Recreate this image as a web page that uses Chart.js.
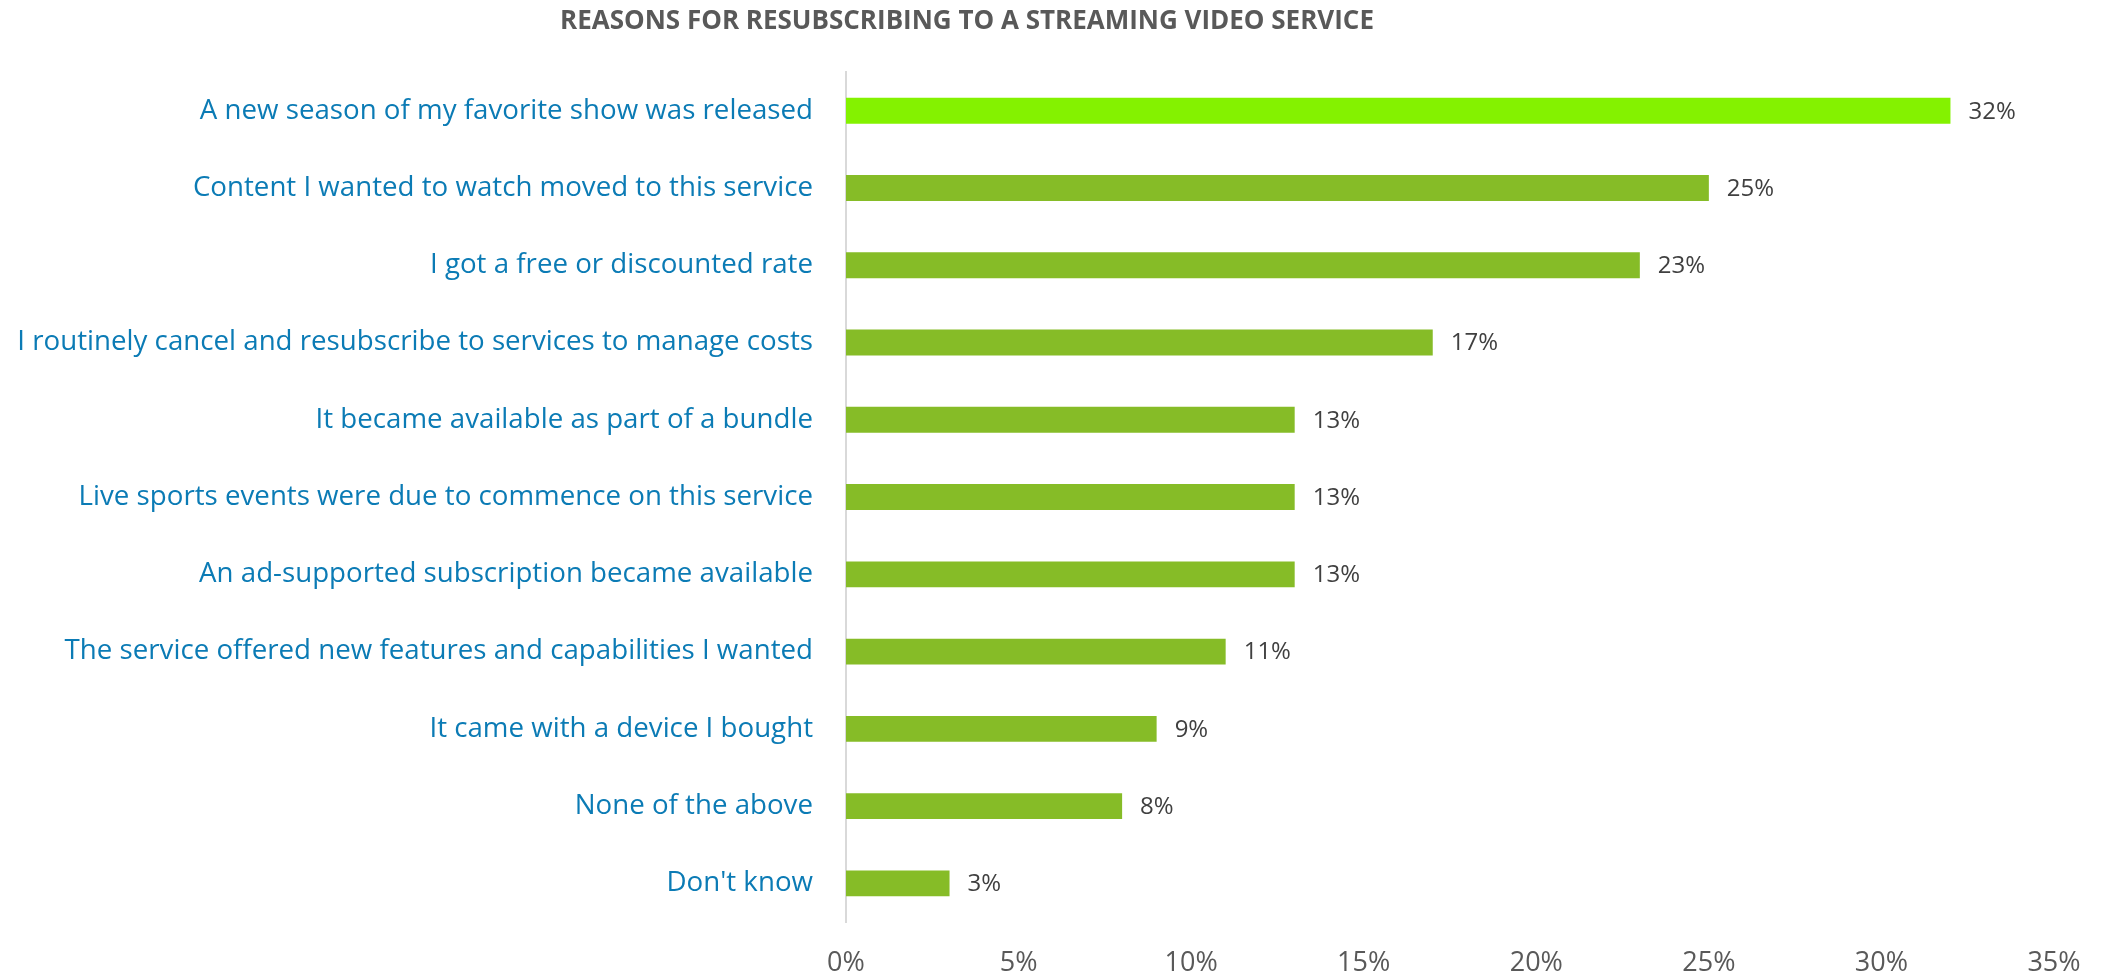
<!DOCTYPE html>
<html>
<head>
<meta charset="utf-8">
<title>Reasons for resubscribing to a streaming video service</title>
<script src="https://cdn.jsdelivr.net/npm/chart.js@4/dist/chart.umd.min.js"></script>
<style>
    html, body { margin: 0; padding: 0; background: #ffffff; }
    #chart-wrap { width: 2108px; height: 979px; }
</style>
</head>
<body>
<div id="chart-wrap">
    <canvas id="resub-chart" width="2108" height="979"></canvas>
</div>
<script>
// Survey answers, top to bottom
const reasons = [
    'A new season of my favorite show was released',
    'Content I wanted to watch moved to this service',
    'I got a free or discounted rate',
    'I routinely cancel and resubscribe to services to manage costs',
    'It became available as part of a bundle',
    'Live sports events were due to commence on this service',
    'An ad-supported subscription became available',
    'The service offered new features and capabilities I wanted',
    'It came with a device I bought',
    'None of the above',
    "Don't know"
];

// Share of respondents (%)
const shares = [32, 25, 23, 17, 13, 13, 13, 11, 9, 8, 3];

// Axis range and ticks (%)
const axisMin = 0;
const axisMax = 35;
const axisStep = 5;

const TITLE = 'REASONS FOR RESUBSCRIBING TO A STREAMING VIDEO SERVICE';

const LIME = '#84f200';
const GREEN = '#86bc27';
const LABEL_BLUE = '#0b7bb5';
const GREY = '#595959';

// Top reason gets the highlight colour
const barColors = shares.map((v, i) => i === 0 ? LIME : GREEN);

// Value labels drawn just past the end of each bar
const valueLabels = {
    id: 'valueLabels',
    afterDatasetsDraw(chart) {
        const { ctx } = chart;
        const meta = chart.getDatasetMeta(0);
        ctx.save();
        ctx.font = "24px 'Open Sans'";
        ctx.fillStyle = '#404040';
        ctx.textAlign = 'left';
        ctx.textBaseline = 'middle';
        meta.data.forEach((bar, i) => {
            ctx.fillText(shares[i] + '%', bar.x + 18, bar.y + 1);
        });
        ctx.restore();
    }
};

// The title sits centred over the left part of the figure, not the whole canvas
const titleShift = {
    id: 'titleShift',
    afterLayout(chart) {
        const t = chart.titleBlock;
        if (!t) return;
        t.left = 0;
        t.right = 1934;
    }
};

new Chart(document.getElementById('resub-chart'), {
    type: 'bar',
    data: {
        labels: reasons,
        datasets: [{
            data: shares,
            backgroundColor: barColors,
            borderWidth: 0,
            categoryPercentage: 1,
            barPercentage: 0.336
        }]
    },
    options: {
        indexAxis: 'y',
        responsive: false,
        animation: false,
        layout: {
            padding: { left: 0, right: 54, top: 0, bottom: 0 }
        },
        plugins: {
            legend: { display: false },
            tooltip: { enabled: false },
            title: {
                display: true,
                text: TITLE,
                color: GREY,
                font: { family: "'Open Sans'", size: 26, weight: 'bold' },
                padding: { top: 6, bottom: 35 }
            }
        },
        scales: {
            x: {
                min: axisMin,
                max: axisMax,
                grid: { display: false, drawTicks: false },
                border: { display: false },
                ticks: {
                    stepSize: axisStep,
                    padding: 25,
                    color: GREY,
                    font: { family: "'Open Sans'", size: 27 },
                    callback: (value) => value + '%'
                },
                afterFit(scale) {
                    scale.height = 57;
                }
            },
            y: {
                grid: { display: false, drawTicks: false },
                border: { display: true, color: '#d9d9d9', width: 2 },
                ticks: {
                    padding: 33,
                    color: LABEL_BLUE,
                    font: { family: "'Open Sans'", size: 27.7 },
                    autoSkip: false
                },
                afterFit(scale) {
                    scale.width = 846;
                }
            }
        }
    },
    plugins: [valueLabels, titleShift]
});
</script>
</body>
</html>
